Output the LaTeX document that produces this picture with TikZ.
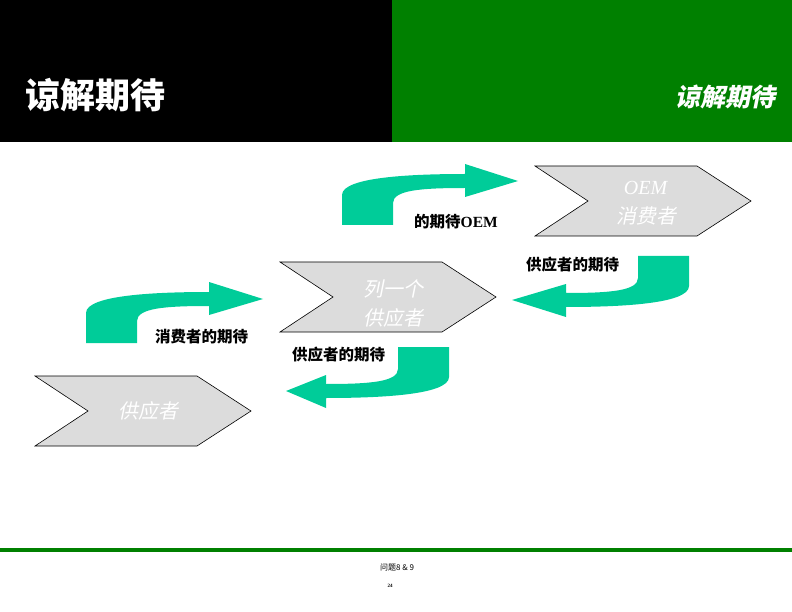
\documentclass[tikz,border=0pt]{standalone}
\usepackage{fontspec}
\setmainfont{Liberation Serif}
\newfontfamily\cjkfont{Noto Sans CJK SC}
\newfontfamily\cjkslant{Noto Sans CJK SC}[FakeSlant=0.2]
\usepackage{xcolor}
\usepackage{tikz}
\definecolor{bannergreen}{RGB}{0,128,0}
\definecolor{arrowgreen}{RGB}{0,204,153}
\definecolor{chevgray}{RGB}{220,220,220}

\begin{document}
\begin{tikzpicture}[
  x=1pt, y=-1pt,
  chevbox/.style={fill=chevgray, draw=black, line width=0.6pt},
  chevtext/.style={text=white, align=center, font=\fontsize{20}{29}\selectfont},
  lab/.style={font=\fontsize{15.5}{18}\selectfont\cjkfont\bfseries, inner sep=0pt},
  chevron/.pic={\filldraw[chevbox] (0,0) -- (162,0) -- (216,35) -- (162,70) -- (0,70) -- (53,35) -- cycle;},
  pics/bendarrow/.style={code={
    \fill[arrowgreen] (0,0) -- (0,-30) .. controls (0,-48) and (70,-51) .. (123,-51)
      -- (123,-61) -- (#1,-44) -- (123,-28) -- (123,-37)
      .. controls (80,-37) and (51,-35) .. (51,-22) -- (51,0) -- cycle;}}
]
\useasboundingbox (0,0) rectangle (792,612);
% banner
\fill[black] (0,0) rectangle (392,142);
\fill[bannergreen] (392,0) rectangle (792,142);
\node[anchor=west, text=white, font=\fontsize{35}{40}\selectfont\cjkfont\bfseries] (title) at (22,95) {谅解期待};
\node[anchor=east, text=white, font=\fontsize{25}{30}\selectfont\cjkslant\bfseries] (subtitle) at (779,97) {谅解期待};

% chevrons
\pic at (535,166) {chevron};
\pic at (280,262) {chevron};
\pic at (35,376) {chevron};
\node[chevtext] (oem) at (646,203) {\textit{OEM}\\\cjkslant 消费者};
\node[chevtext] (mid) at (393,303) {\cjkslant 列一个\\\cjkslant 供应者};
\node[chevtext] (supp) at (148,411) {\cjkslant 供应者};

% bent arrows
\pic at (342,225) {bendarrow=176};
\pic at (86,343) {bendarrow=177};
\pic[rotate=180] at (689,256) {bendarrow=177};
\pic[rotate=180] at (449,347) {bendarrow=163};

% labels
\node[lab, anchor=west] (oemlab) at (414,222) {的期待{\rmfamily OEM}};
\node[lab, anchor=west] (toplab) at (526,265) {供应者的期待};
\node[lab, anchor=west] (leftlab) at (155,337) {消费者的期待};
\node[lab, anchor=west] (lowlab) at (292,355) {供应者的期待};

% footer
\fill[bannergreen] (0,548) rectangle (792,552);
\node[font=\fontsize{8}{9}\selectfont\cjkfont] (issue) at (397,568) {问题8 \& 9};
\node[font=\fontsize{5}{6}\selectfont\bfseries] (page) at (390,586) {24};
\end{tikzpicture}
\end{document}
